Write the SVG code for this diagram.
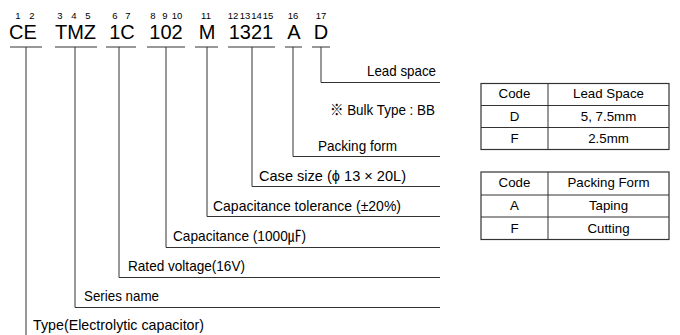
<svg xmlns="http://www.w3.org/2000/svg" width="680" height="335" viewBox="0 0 680 335">
<style>
text{font-family:"Liberation Sans","Noto Sans CJK KR",sans-serif;fill:#000}
.big{font-size:20px;text-anchor:middle}
.idx{font-size:9.5px;text-anchor:middle}
.lbl{font-size:15px}
.tt{font-size:13.3px;text-anchor:middle}
.r{text-anchor:end}
.ln{stroke:#333;stroke-width:1;fill:none}
.tb{stroke:#333;stroke-width:1.2;fill:#fff}
</style>
<rect width="680" height="335" fill="#fff"/>
<g id="code">
<text class="idx" x="18" y="19">1</text><text class="idx" x="32" y="19">2</text>
<text class="idx" x="60" y="19">3</text><text class="idx" x="74" y="19">4</text><text class="idx" x="88" y="19">5</text>
<text class="idx" x="115" y="19">6</text><text class="idx" x="128" y="19">7</text>
<text class="idx" x="153" y="19">8</text><text class="idx" x="165" y="19">9</text><text class="idx" x="177" y="19">10</text>
<text class="idx" x="206" y="19">11</text>
<text class="idx" x="233" y="19">12</text><text class="idx" x="245" y="19">13</text><text class="idx" x="256.5" y="19">14</text><text class="idx" x="268" y="19">15</text>
<text class="idx" x="293" y="19">16</text>
<text class="idx" x="321" y="19">17</text>
<text class="big" x="23" y="39">CE</text>
<text class="big" x="75.5" y="39">TMZ</text>
<text class="big" x="122" y="39">1C</text>
<text class="big" x="166" y="39">102</text>
<text class="big" x="207" y="39">M</text>
<text class="big" x="251" y="39">1321</text>
<text class="big" x="294" y="39">A</text>
<text class="big" x="321" y="39">D</text>
</g>
<g id="connectors">
<path class="ln" d="M10 47H42M55 47H97M106 47H136M147 47H185M195 47H218M228 47H275M285 47H302M312 47H330"/>
<path class="ln" d="M26 47V335"/>
<path class="ln" d="M75 47V307.5H440"/>
<path class="ln" d="M119 47V277.5H440"/>
<path class="ln" d="M166 47V247.5H440"/>
<path class="ln" d="M207 47V216.5H440"/>
<path class="ln" d="M252 47V186.5H440"/>
<path class="ln" d="M293 47V156.5H440"/>
<path class="ln" d="M321 47V82.5H440"/>
</g>
<g id="labels">
<text class="lbl" x="367" y="76" textLength="69" lengthAdjust="spacingAndGlyphs">Lead space</text>
<text class="lbl" x="330" y="115" textLength="105" lengthAdjust="spacingAndGlyphs">※ Bulk Type : BB</text>
<text class="lbl" x="318" y="150.5" textLength="79" lengthAdjust="spacingAndGlyphs">Packing form</text>
<text class="lbl" x="259" y="180.5" textLength="147" lengthAdjust="spacingAndGlyphs">Case size (ϕ 13 × 20L)</text>
<text class="lbl" x="213" y="210.5" textLength="188" lengthAdjust="spacingAndGlyphs">Capacitance tolerance (±20%)</text>
<text class="lbl" x="173" y="240.5" textLength="133" lengthAdjust="spacingAndGlyphs">Capacitance (1000㎌)</text>
<text class="lbl" x="128" y="270.5" textLength="117" lengthAdjust="spacingAndGlyphs">Rated voltage(16V)</text>
<text class="lbl" x="84" y="300.5" textLength="75" lengthAdjust="spacingAndGlyphs">Series name</text>
<text class="lbl" x="33" y="330" textLength="171" lengthAdjust="spacingAndGlyphs">Type(Electrolytic capacitor)</text>
</g>
<g id="table-lead-space">
<rect class="tb" x="481" y="83.5" width="188" height="66"/>
<path class="ln" d="M481 105.5H669M481 127.5H669M548 83.5V149.5"/>
<text class="tt" x="514.5" y="98">Code</text>
<text class="tt" x="608.5" y="98">Lead Space</text>
<text class="tt" x="514.5" y="120.5">D</text>
<text class="tt" x="608.5" y="120.5">5, 7.5mm</text>
<text class="tt" x="514.5" y="143">F</text>
<text class="tt" x="608.5" y="143">2.5mm</text>
</g>
<g id="table-packing-form">
<rect class="tb" x="481" y="172" width="188" height="67.5"/>
<path class="ln" d="M481 195H669M481 217H669M548 172V239.5"/>
<text class="tt" x="514.5" y="187">Code</text>
<text class="tt" x="608.5" y="187">Packing Form</text>
<text class="tt" x="514.5" y="209.5">A</text>
<text class="tt" x="608.5" y="209.5">Taping</text>
<text class="tt" x="514.5" y="233">F</text>
<text class="tt" x="608.5" y="233">Cutting</text>
</g>
</svg>
